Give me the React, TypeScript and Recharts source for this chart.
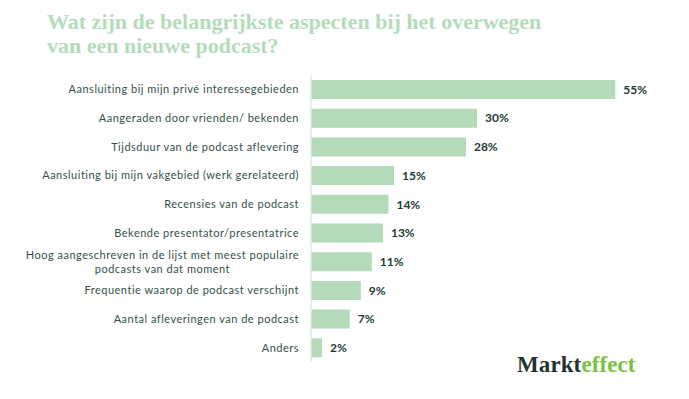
import React from 'react';
import { BarChart, Bar, XAxis, YAxis, LabelList } from 'recharts';

const categories = [
  'Aansluiting bij mijn privé interessegebieden',
  'Aangeraden door vrienden/ bekenden',
  'Tijdsduur van de podcast aflevering',
  'Aansluiting bij mijn vakgebied (werk gerelateerd)',
  'Recensies van de podcast',
  'Bekende presentator/presentatrice',
  'Hoog aangeschreven in de lijst met meest populaire\npodcasts van dat moment',
  'Frequentie waarop de podcast verschijnt',
  'Aantal afleveringen van de podcast',
  'Anders',
];
const values = [55, 30, 28, 15, 14, 13, 11, 9, 7, 2];

const data = categories.map((name, i) => ({ name, value: values[i] }));

const TICK_FONT = '11px Lato';
const TICK_SPACING = 0.5;

let ctx: CanvasRenderingContext2D | null = null;
const measure = (s: string) => {
  if (!ctx) ctx = document.createElement('canvas').getContext('2d');
  if (!ctx) return s.length * 5.3;
  ctx.font = TICK_FONT;
  return ctx.measureText(s).width + s.length * TICK_SPACING;
};

const CategoryTick = ({ x, y, payload }: any) => {
  const lines: string[] = String(payload.value).split('\n');
  const common = {
    fill: '#34504a',
    fontSize: 11,
    fontFamily: 'Lato',
    letterSpacing: TICK_SPACING,
  };
  if (lines.length === 1) {
    return (
      <text x={x} y={y} dy={4} textAnchor="end" {...common}>
        {lines[0]}
      </text>
    );
  }
  // multi-line labels are centered as a block, block right-aligned to the axis
  const w = Math.max(...lines.map(measure));
  const cx = x - w / 2;
  return (
    <text x={cx} y={y} textAnchor="middle" {...common}>
      {lines.map((l, i) => (
        <tspan key={i} x={cx} dy={i === 0 ? -3 : 14}>{l}</tspan>
      ))}
    </text>
  );
};

export default function App() {
  return (
    <div style={{ position: 'absolute', left: 0, top: 0, width: 689, height: 399, background: '#fff' }}>
      <div
        style={{
          position: 'absolute', left: 47, top: 10, width: 600,
          fontFamily: '"Liberation Serif", serif', fontWeight: 700, fontSize: 22,
          lineHeight: '24px', color: '#b4dcbc',
        }}
      >
        Wat zijn de belangrijkste aspecten bij het overwegen<br />van een nieuwe podcast?
      </div>
      <BarChart
        width={689}
        height={399}
        data={data}
        layout="vertical"
        margin={{ top: 75, right: 46, bottom: 37, left: 0 }}
        barCategoryGap="33%"
      >
        <XAxis type="number" domain={[0, 60]} hide />
        <YAxis
          type="category"
          dataKey="name"
          width={311}
          tickLine={false}
          tickSize={6}
          tickMargin={6}
          axisLine={{ stroke: '#dcece0', strokeWidth: 1.5 }}
          tick={<CategoryTick />}
          interval={0}
        />
        <Bar dataKey="value" fill="#b3dab9" barSize={19} isAnimationActive={false}>
          <LabelList
            dataKey="value"
            position="right"
            offset={8}
            formatter={(v: any) => `${v}%`}
            fill="#1e3b34"
            fontSize={12}
            fontWeight={700}
            fontFamily="Lato"
          />
        </Bar>
      </BarChart>
      <div
        style={{
          position: 'absolute', left: 517, top: 353,
          fontFamily: '"Liberation Serif", serif', fontWeight: 700, fontSize: 23,
          lineHeight: '23px', letterSpacing: 0.1,
        }}
      >
        <span style={{ color: '#1f3430' }}>Markt</span>
        <span style={{ color: '#7cc242' }}>effect</span>
      </div>
    </div>
  );
}
